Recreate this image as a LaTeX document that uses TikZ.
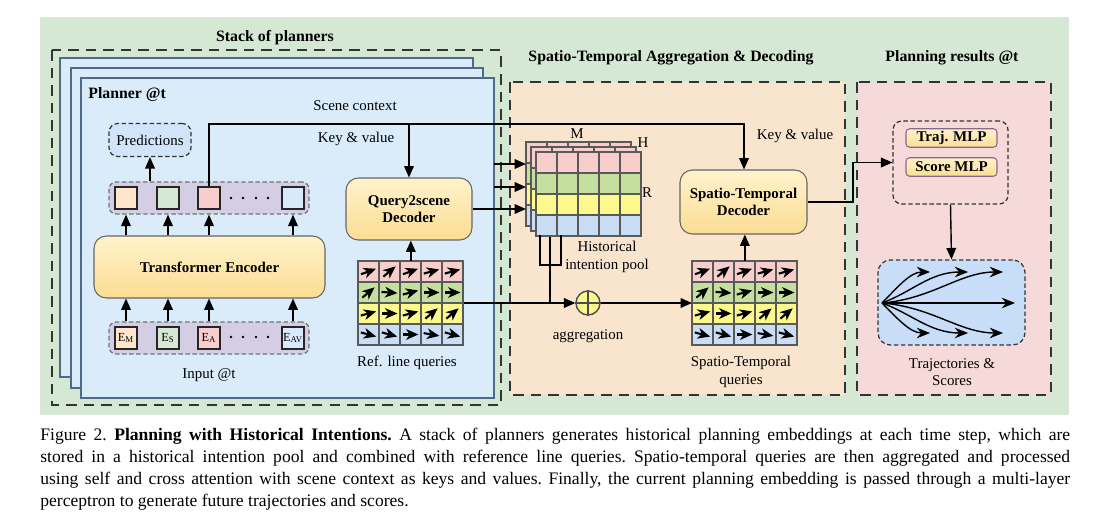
\documentclass[tikz,border=0pt]{standalone}
\usepackage{fontspec}
\setmainfont{Liberation Serif}
\usetikzlibrary{arrows.meta}

\definecolor{bggreen}{HTML}{D5E8D4}
\definecolor{plfill}{HTML}{DAEBFA}
\definecolor{pldraw}{HTML}{4F6A86}
\definecolor{stfill}{HTML}{F9E4CD}
\definecolor{resfill}{HTML}{F6DADA}
\definecolor{boxtop}{HTML}{FFF2CC}
\definecolor{boxbot}{HTML}{FBDD93}
\definecolor{tokfill}{HTML}{D3CEE3}
\definecolor{predfill}{HTML}{D2E4F9}
\definecolor{cpink}{HTML}{F8CECC}
\definecolor{cgreen}{HTML}{C5E09E}
\definecolor{cyellow}{HTML}{FBF98C}
\definecolor{cblue}{HTML}{C9DDF6}
\definecolor{tpeach}{HTML}{FFE6CC}
\definecolor{tgreen}{HTML}{D5E8D4}
\definecolor{tblue}{HTML}{DAE8FC}
\definecolor{trajfill}{HTML}{C8DEF8}

% query grid: top-left x, top-left y, with arrows (1) or not (0)
\newcommand{\qgrid}[3]{%
  \foreach \col [count=\r from 0] in {cpink,cgreen,cyellow,cblue}
    \foreach \c in {0,...,4}
      \draw[cell, fill=\col] ({#1+\c*21},{#2+\r*21}) rectangle ++(21,21);
  \ifnum#3=1
    \foreach \r/\angs in {0/{20,40,20,15,15},1/{40,-4,15,0,0},2/{15,0,15,40,40},3/{-15,-15,0,-10,-15}}
      \foreach \a [count=\c from 0] in \angs
        \draw[cellarrow] ({#1+\c*21+10.5},{#2+\r*21+10.5}) ++({180-\a}:8) -- ++({-\a}:16);
  \fi
}

\begin{document}
\begin{tikzpicture}[x=0.02cm, y=-0.02cm,
    >={Triangle[length=6.5pt,width=5.5pt]},
    lbl/.style={font=\fontsize{8.5}{10}\selectfont, align=center, inner sep=0},
    ttl/.style={font=\bfseries\fontsize{9}{11}\selectfont, inner sep=0},
    area/.style={draw=black!80, line width=0.8pt, dash pattern=on 6pt off 4pt},
    planner/.style={draw=pldraw, line width=0.8pt, fill=plfill},
    ybox/.style={draw=black!60, line width=0.6pt, rounded corners=7pt, top color=boxtop, bottom color=boxbot,
        font=\bfseries\fontsize{8.5}{10}\selectfont, align=center, inner sep=0},
    dbox/.style={draw=black!80, line width=0.7pt, dash pattern=on 2.5pt off 1.5pt, rounded corners=5pt, inner sep=0},
    tokrow/.style={draw=black!55, line width=0.7pt, dash pattern=on 2.5pt off 1.5pt, rounded corners=4pt,
        fill=tokfill, minimum width=4cm, minimum height=0.64cm, inner sep=0},
    tok/.style={draw=black!85, line width=0.7pt, minimum size=0.44cm, inner sep=0},
    cell/.style={draw=black!65, line width=0.6pt},
    cellarrow/.style={line width=1.2pt, -{Stealth[length=7pt,width=6pt,inset=2pt]}},
    conn/.style={line width=0.8pt}
]
\useasboundingbox (0,0) rectangle (1107,527);
\fill[bggreen] (40,17) rectangle (1069,415);

% ---- stack of planners
\node[ttl] (ttlstack) at (275,38) {Stack of planners};
\draw[area] (52,50) rectangle (501,405);
\draw[planner] (60,58) rectangle (473,377);
\draw[planner] (71,68) rectangle (483,388);
\draw[planner] (81,78) rectangle (494,398);
\node[ttl, anchor=west] (ttlplanner) at (88,95) {Planner @t};
\node[lbl] (scene) at (355,106) {Scene context};
\node[lbl] (kv1) at (356,139) {Key \& value};

\node[dbox, fill=predfill, minimum width=1.64cm, minimum height=0.66cm, font=\fontsize{8.5}{10}\selectfont] (pred) at (150,140) {Predictions};

\node[tokrow] (tok) at (209,198) {};
\node[tok, fill=tpeach] (t1) at (126,198) {};
\node[tok, fill=tgreen] (t2) at (168,198) {};
\node[tok, fill=cpink] (t3) at (209,198) {};
\node[tok, fill=tblue] (t4) at (293,198) {};
\foreach \x in {231,243,256,268} \fill (\x,198) circle (1.4);

\node[ybox, minimum width=4.62cm, minimum height=1.24cm] (enc) at (209.5,267) {Transformer Encoder};

\node[tokrow] (inp) at (209,338) {};
\node[tok, fill=tpeach, font=\fontsize{7}{7}\selectfont] (e1) at (126,338) {E\textsubscript{M}};
\node[tok, fill=tgreen, font=\fontsize{7}{7}\selectfont] (e2) at (168,338) {E\textsubscript{S}};
\node[tok, fill=cpink, font=\fontsize{7}{7}\selectfont] (e3) at (209,338) {E\textsubscript{A}};
\node[tok, fill=tblue, font=\fontsize{7}{7}\selectfont] (e4) at (293,338) {E\textsubscript{AV}};
\foreach \x in {231,243,256,268} \fill (\x,337) circle (1.4);
\node[lbl] (input) at (209,375) {Input @t};

\node[ybox, minimum width=2.52cm, minimum height=1.24cm] (q2s) at (409,209) {Query2scene\\Decoder};

\qgrid{358}{261}{1}
\node[inner sep=0, minimum width=2.1cm, minimum height=1.68cm, anchor=north west] (refq) at (358,261) {};
\node[lbl] (reflbl) at (407,363) {Ref. line queries};

\foreach \i in {1,2,3,4} {
    \draw[conn, ->] (enc.north -| t\i) -- (t\i |- tok.south);
    \draw[conn, ->] (inp.north -| e\i) -- (enc.south -| e\i);
}
\draw[conn, ->] (tok.north -| pred) -- (pred.south);
\draw[conn, ->] (refq.north) -- (refq.north |- q2s.south);

% ---- spatio-temporal aggregation & decoding
\node[ttl] (ttlst) at (671,58) {Spatio-Temporal Aggregation \& Decoding};
\draw[area, fill=stfill] (510,82) rectangle (845,395);

\qgrid{526}{142}{0}
\qgrid{531}{147}{0}
\qgrid{536}{152}{0}
\node[inner sep=0, minimum width=1.05cm, minimum height=1.66cm, anchor=north west] (pool3) at (526,142) {};
\node[inner sep=0, minimum width=2.1cm, minimum height=1.68cm, anchor=north west] (pool) at (536,152) {};
\node[lbl] (mlbl) at (577,134) {M};
\node[lbl] (hlbl) at (643,143) {H};
\node[lbl] (rlbl) at (647,193) {R};
\node[lbl] (poollbl) at (607,257) {Historical\\intention pool};
\draw[conn] (540,235) -- (540,265) -- (561,265) -- (561,235);

\node[circle, draw=black!70, line width=0.8pt, fill=cyellow, minimum size=0.48cm, inner sep=0] (agg) at (588,303) {};
\draw[line width=0.8pt, black!70] (agg.north) -- (agg.south) (agg.west) -- (agg.east);
\node[lbl] (agglbl) at (588,336) {aggregation};

\qgrid{692}{261}{1}
\node[inner sep=0, minimum width=2.1cm, minimum height=1.68cm, anchor=north west] (stq) at (692,261) {};
\node[lbl] (stqlbl) at (741,372) {Spatio-Temporal\\queries};

\node[ybox, minimum width=2.54cm, minimum height=1.28cm] (std) at (743.5,202) {Spatio-Temporal\\Decoder};
\node[lbl] (kv2) at (795,136) {Key \& value};

% ---- planning results
\node[ttl] (ttlres) at (952,58) {Planning results @t};
\draw[area, fill=resfill] (857,82) rectangle (1051,395);
\node[dbox, minimum width=2.3cm, minimum height=1.66cm] (mlp) at (950.5,162.5) {};
\node[ybox, draw=black!50!violet!60, rounded corners=2pt, minimum width=1.82cm, minimum height=0.37cm] (trajmlp) at (951.5,138) {Traj. MLP};
\node[ybox, draw=black!50!violet!60, rounded corners=2pt, minimum width=1.82cm, minimum height=0.37cm] (scoremlp) at (951.5,167) {Score MLP};
\node[dbox, fill=trajfill, rounded corners=7pt, minimum width=2.94cm, minimum height=1.7cm] (traj) at (951.5,302.5) {};
\node[lbl] (trajlbl) at (952,372) {Trajectories \&\\Scores};

\begin{scope}[conn, -{Stealth[length=7.5pt,width=6pt]}]
    \draw (882,303) .. controls (897,288) and (910,272) .. (930,272);
    \draw (882,303) .. controls (912,292) and (930,272) .. (968,272);
    \draw (882,303) .. controls (932,299) and (960,272) .. (1003,272);
    \draw (882,303) -- (1015,303);
    \draw (882,303) .. controls (897,318) and (910,333) .. (930,333);
    \draw (882,303) .. controls (912,314) and (930,333) .. (968,333);
    \draw (882,303) .. controls (932,307) and (960,333) .. (1003,333);
\end{scope}

% ---- connectors across the sections
\coordinate (kv) at (744,124);
\coordinate (join) at (550,303);
\coordinate (bend) at (853,161);
\coordinate (pl2) at (494,164);
\coordinate (pl3) at (494,187);
\draw[conn, ->] (t3.north) |- (kv) -- (kv |- std.north);
\draw[conn, ->] (q2s.north |- kv) -- (q2s.north);
\draw[conn, ->] (pl2) -- (pl2 -| pool3.west);
\draw[conn, ->] (pl3) -- (pl3 -| pool3.west);
\draw[conn, ->] (q2s.east) -- (q2s.east -| pool3.west);
\draw[conn] (pool.south -| join) -- (join);
\draw[conn, ->] (refq.east |- agg) -- (agg.west);
\draw[conn, ->] (agg.east) -- (agg -| stq.west);
\draw[conn, ->] (stq.north) -- (stq.north |- std.south);
\draw[conn, ->] (std.east) -- (std.east -| bend) |- (mlp.west);
\draw[conn, ->] (mlp.south) -- (traj.north);

% ---- caption
\node[anchor=north west, inner sep=0, text width=20.6cm, align=justify, font=\fontsize{10}{12.5}\selectfont\frenchspacing] (cap) at (40,428)
{Figure 2. \textbf{Planning with Historical Intentions.} A stack of planners generates historical planning embeddings at each time step, which are\linebreak
stored in a historical intention pool and combined with reference line queries. Spatio-temporal queries are then aggregated and processed\linebreak
using self and cross attention with scene context as keys and values. Finally, the current planning embedding is passed through a multi-layer\linebreak
perceptron to generate future trajectories and scores.};
\end{tikzpicture}
\end{document}
